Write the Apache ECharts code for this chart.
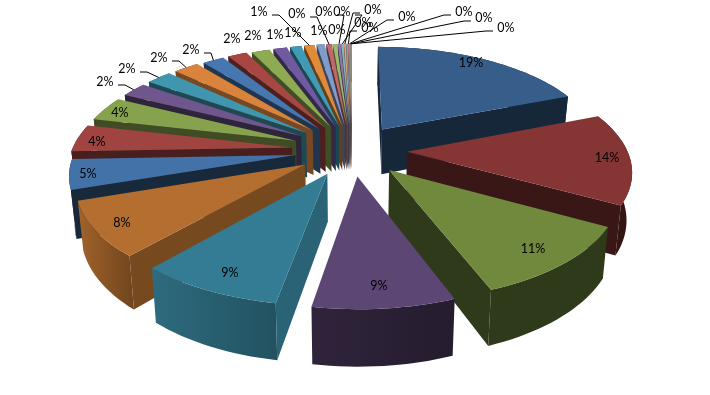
<!DOCTYPE html>
<html>
<head>
<meta charset="utf-8">
<style>html,body{margin:0;padding:0;background:#fff}#c{width:710px;height:395px}</style>
<script src="https://cdn.jsdelivr.net/npm/echarts@6/dist/echarts.min.js"></script>
</head>
<body>
<div id="c"></div>
<script>
// ---- data ----
const sliceValues = [19.0, 14.0, 11.15, 8.5, 8.7, 8.3,
  4.6, 4.2, 3.8, 2.3, 2.25, 2.2, 1.9, 1.7, 1.6, 1.2, 1.0, 0.9,
  0.7, 0.45, 0.35, 0.25, 0.2, 0.15, 0.12, 0.1, 0.08, 0.06, 0.04, 0.02];

// ---- style ----
const topColors = ['#375E8A','#863535','#71893D','#5C4674','#347C93','#B46E2F',
  '#4272A8','#A04442','#87A24C','#6F578D','#3F96AE','#D9833C',
  '#4677B0','#A84644','#8FAB52','#7059A0','#3F9BB5','#E08B3A',
  '#7E9BCB','#C0686A','#9FB86E','#8A79A8','#7FB5C8','#E8A270',
  '#8C9CB8','#B88080','#A0B080','#9488A8','#88AAB8','#C8A080'];
const radialShade = [0.42,0.43,0.42,0.45,0.8,0.66,0.36,0.45,0.47,0.42,0.48,0.55];
const outerShadeL = [0.4,0.4,0.42,0.52,0.86,0.9,0.4,0.45];
const outerShadeR = [0.4,0.38,0.42,0.4,0.66,0.62,0.4,0.45];
const defaultShade = 0.45;

// ---- layout of the pie's projection ----
const view = {xc:352, yc:150, A:102, B:220, k:0.16, depth:46, inset:0.98};
const baseExplode = 0.25;
const explodeOverride = {6:0.26,7:0.275,8:0.275,9:0.275,10:0.275,11:0.27,12:0.26,13:0.26};

// label layout: [centre x, centre y, leader side (0 none, -1 line leaves left, 1 line leaves right)]
const labelLayout = [
 [471,63,0],[607,158,0],[533,249,0],[379,286,0],[230,273,0],[122,223,0],
 [88,174,0],[97,142,0],[120,113,0],
 [105,82,1],[127,69,1],[159,58,1],[191,50,1],[232,39,0],[253,36,0],[275,35,0],[293,33,0],[259,12,1],
 [319,31,0],[297,14,1],[337,30,0],[324,12,1],[342,12,1],[373,10,-1],[363,23,0],[370,28,-1],
 [407,17,-1],[464,12,-1],[484,18,-1],[506,28,-1]];

const total = sliceValues.reduce((a,b)=>a+b,0);
let acc = 0;
const slices = sliceValues.map((v,i)=>{
  const a0 = acc/total*2*Math.PI; acc += v;
  const a1 = acc/total*2*Math.PI;
  const e = explodeOverride[i]!==undefined?explodeOverride[i]:baseExplode;
  return {i, v, a0, a1, e, mid:(a0+a1)/2};
});
const drawOrder = slices.slice().sort((p,q)=>Math.cos(q.mid)-Math.cos(p.mid)).map(s=>s.i);

function project(X,Y,low){
  const s = 1/(1-view.k*Y);
  let x = view.xc + view.B*X*s, y = view.yc + view.A*Y*s;
  if(low){ x = view.xc + (x-view.xc)*view.inset; y += view.depth*s; }
  return [x,y];
}
function rimPoint(s,a,low){
  return project(s.e*Math.sin(s.mid)+Math.sin(a), -s.e*Math.cos(s.mid)-Math.cos(a), low);
}
function apex(s,low){
  return project(s.e*Math.sin(s.mid), -s.e*Math.cos(s.mid), low);
}
function rim(s,low){
  const n = Math.max(2,Math.ceil((s.a1-s.a0)/(Math.PI/90)));
  const pts=[];
  for(let j=0;j<=n;j++) pts.push(rimPoint(s,s.a0+(s.a1-s.a0)*j/n,low));
  return pts;
}
function shade(hex,f){
  const n=parseInt(hex.slice(1),16);
  const c=[(n>>16)&255,(n>>8)&255,n&255].map(v=>Math.round(v*f));
  return 'rgb('+c.join(',')+')';
}
function area(p){let a=0;for(let i=0;i<p.length;i++){const q=p[(i+1)%p.length];a+=p[i][0]*q[1]-q[0]*p[i][1];}return a/2;}

function renderSlice(params,api){
  const s = slices[api.value(0)], col = topColors[s.i % topColors.length];
  const children=[];
  const rTop=rim(s,false), rLow=rim(s,true);
  const wall=rTop.concat(rLow.slice().reverse());
  const sl = outerShadeL[s.i]!==undefined?outerShadeL[s.i]:defaultShade;
  const sr = outerShadeR[s.i]!==undefined?outerShadeR[s.i]:defaultShade;
  children.push({type:'polygon',shape:{points:wall},style:{
    fill:new echarts.graphic.LinearGradient(0,0,1,0,[{offset:0,color:shade(col,sl)},{offset:1,color:shade(col,sr)}])}});
  const rad = radialShade[s.i]!==undefined?radialShade[s.i]:defaultShade;
  const at=apex(s,false), al=apex(s,true);
  const f0=[at,rTop[0],rLow[0],al], f1=[at,al,rLow[rLow.length-1],rTop[rTop.length-1]];
  [f0,f1].forEach(f=>{
    if(area(f)<0) children.push({type:'polygon',shape:{points:f},style:{fill:shade(col,rad)}});
  });
  children.push({type:'polygon',shape:{points:[at].concat(rTop)},style:{fill:col}});
  return {type:'group',children};
}
function renderLabel(params,api){
  const i=api.value(0), s=slices[i], L=labelLayout[i];
  const txt=Math.round(s.v/total*100)+'%';
  const children=[];
  if(L[2]!==0){
    const sx=L[0]+L[2]*13, ex=sx+L[2]*7;
    const tip=rimPoint(s,s.mid,false);
    children.push({type:'polyline',shape:{points:[[sx,L[1]+3],[ex,L[1]+3],tip]},
      style:{stroke:'#000',lineWidth:1,fill:null}});
  }
  children.push({type:'text',x:L[0],y:L[1],style:{text:txt,fill:'#000',font:'12.5px Lato',align:'center',verticalAlign:'middle'}});
  return {type:'group',children};
}
const chart=echarts.init(document.getElementById('c'),null,{renderer:'canvas'});
chart.setOption({
  backgroundColor:'#fff',
  animation:false,
  series:[
    {type:'custom',coordinateSystem:'none',silent:true,z:2,renderItem:renderSlice,data:drawOrder.map(i=>[i,sliceValues[i]])},
    {type:'custom',coordinateSystem:'none',silent:true,z:3,renderItem:renderLabel,data:slices.map(s=>[s.i,s.v])}
  ]
});
</script>
</body>
</html>
